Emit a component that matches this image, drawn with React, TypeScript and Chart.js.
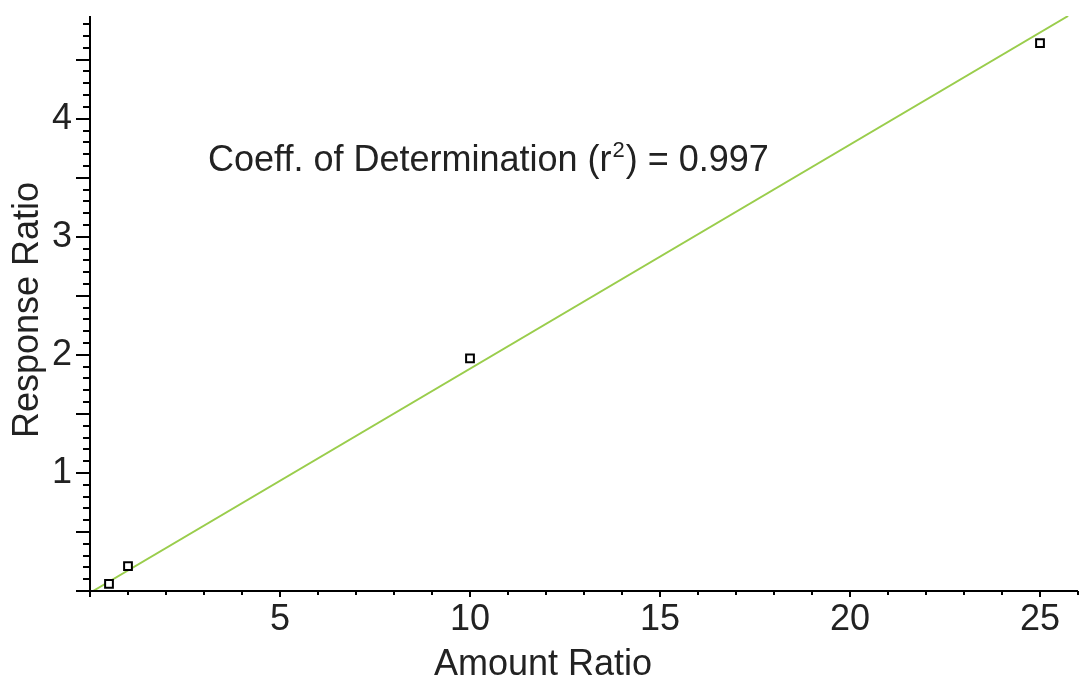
import React, { useEffect, useRef } from "react";
import { Chart, registerables } from "chart.js";

Chart.register(...registerables);

// ---- data ----
const amountRatio = [0.5, 1, 10, 25];
const responseRatio = [0.06, 0.21, 1.97, 4.64];
const fitX = [0.08, 25.74];
const fitY = [0, 4.87];
const xTickValues = [5, 10, 15, 20, 25];
const yTickValues = [1, 2, 3, 4];
const xTitle = "Amount Ratio";
const yTitle = "Response Ratio";
const annoMain = "Coeff. of Determination (r";
const annoSup = "2";
const annoEnd = ") = 0.997";

const FONT = '"Liberation Sans", Arial, Helvetica, sans-serif';
const TEXT = "#222222";

const axesPlugin = {
  id: "customAxes",
  afterDraw(chart: any) {
    const ctx = chart.ctx;
    const xs = chart.scales.x;
    const ys = chart.scales.y;
    const { left, right, top, bottom } = chart.chartArea;
    ctx.save();
    ctx.strokeStyle = "#000";
    ctx.lineWidth = 2;
    ctx.lineCap = "butt";
    // axis lines
    ctx.beginPath();
    ctx.moveTo(left, top);
    ctx.lineTo(left, bottom);
    ctx.moveTo(left, bottom);
    ctx.lineTo(right, bottom);
    ctx.stroke();
    // y ticks: every 0.1, long at 0.5 multiples
    ctx.beginPath();
    for (let i = 0; i <= 48; i++) {
      const py = Math.round(ys.getPixelForValue(i / 10));
      const len = i % 5 === 0 ? 14 : 7;
      ctx.moveTo(left - len, py);
      ctx.lineTo(left, py);
    }
    // x ticks: every 1, long at 5 multiples
    for (let i = 0; i <= 26; i++) {
      const px = Math.round(xs.getPixelForValue(i));
      const len = i % 5 === 0 ? 6 : 4;
      ctx.moveTo(px, bottom);
      ctx.lineTo(px, bottom + len);
    }
    ctx.stroke();

    // titles
    ctx.fillStyle = TEXT;
    ctx.font = `36px ${FONT}`;
    ctx.textAlign = "center";
    ctx.textBaseline = "middle";
    ctx.fillText(xTitle, 543, 665);
    ctx.save();
    ctx.translate(28, 310);
    ctx.rotate(-Math.PI / 2);
    ctx.fillText(yTitle, 0, 0);
    ctx.restore();

    // annotation
    ctx.textAlign = "left";
    ctx.textBaseline = "alphabetic";
    let x = 208;
    const base = 171;
    ctx.font = `36px ${FONT}`;
    ctx.fillText(annoMain, x, base);
    x += ctx.measureText(annoMain).width + 1;
    ctx.font = `22px ${FONT}`;
    ctx.fillText(annoSup, x, base - 14);
    x += ctx.measureText(annoSup).width + 1;
    ctx.font = `36px ${FONT}`;
    ctx.fillText(annoEnd, x, base);
    ctx.restore();
  },
};

export default function App() {
  const ref = useRef<HTMLCanvasElement | null>(null);

  useEffect(() => {
    document.body.style.margin = "0";
    const canvas = ref.current;
    if (!canvas) return;
    const chart = new Chart(canvas, {
      type: "scatter",
      data: {
        datasets: [
          {
            label: "fit",
            type: "line",
            data: fitX.map((v, i) => ({ x: v, y: fitY[i] })),
            borderColor: "#9acd4c",
            borderWidth: 2,
            pointRadius: 0,
            fill: false,
            order: 2,
          },
          {
            label: "points",
            data: amountRatio.map((v, i) => ({ x: v, y: responseRatio[i] })),
            pointStyle: "rect",
            pointRadius: 5.5,
            borderWidth: 2,
            borderColor: "#000",
            backgroundColor: "#fff",
            order: 1,
          },
        ],
      },
      options: {
        animation: false,
        responsive: false,
        maintainAspectRatio: false,
        devicePixelRatio: 1,
        layout: { autoPadding: false, padding: { top: 16, right: 3, left: 0, bottom: 0 } },
        plugins: {
          legend: { display: false },
          tooltip: { enabled: false },
        },
        scales: {
          x: {
            type: "linear",
            min: 0,
            max: 26,
            grid: { display: false, drawTicks: false },
            border: { display: false },
            afterBuildTicks: (s: any) => {
              s.ticks = xTickValues.map((v) => ({ value: v }));
            },
            afterFit: (s: any) => {
              s.height = 91;
              s.paddingLeft = 0;
              s.paddingRight = 0;
              s.paddingTop = 0;
              s.paddingBottom = 0;
            },
            ticks: {
              autoSkip: false,
              maxRotation: 0,
              padding: 7,
              color: TEXT,
              font: { family: FONT, size: 36 },
            },
          },
          y: {
            type: "linear",
            min: 0,
            max: 4.87,
            grid: { display: false, drawTicks: false },
            border: { display: false },
            afterBuildTicks: (s: any) => {
              s.ticks = yTickValues.map((v) => ({ value: v }));
            },
            afterFit: (s: any) => {
              s.width = 90;
              s.paddingLeft = 0;
              s.paddingRight = 0;
              s.paddingTop = 0;
              s.paddingBottom = 0;
            },
            ticks: {
              autoSkip: false,
              padding: 18,
              color: TEXT,
              font: { family: FONT, size: 36 },
            },
          },
        },
      } as any,
      plugins: [axesPlugin],
    });
    return () => chart.destroy();
  }, []);

  return (
    <div style={{ width: 1081, height: 682, position: "relative", background: "#fff" }}>
      <canvas ref={ref} width={1081} height={682} style={{ display: "block" }} />
    </div>
  );
}
